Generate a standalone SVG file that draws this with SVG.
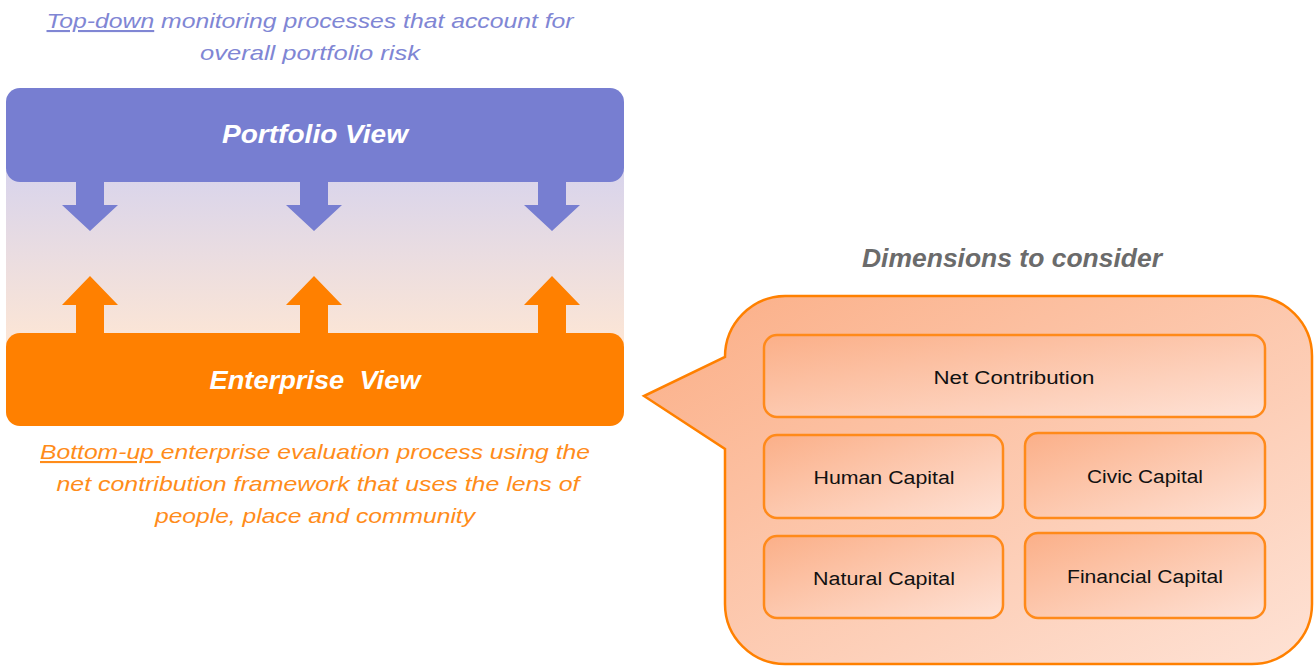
<svg xmlns="http://www.w3.org/2000/svg" width="1314" height="666" viewBox="0 0 1314 666">
<defs>
<linearGradient id="bg" x1="0" y1="0" x2="0" y2="1">
<stop offset="0" stop-color="#D8D4EC"/>
<stop offset="1" stop-color="#FDE6D5"/>
</linearGradient>
<linearGradient id="peach" x1="0" y1="0" x2="1" y2="1">
<stop offset="0" stop-color="#FBAE86"/>
<stop offset="1" stop-color="#FEE2D5"/>
</linearGradient>
<linearGradient id="peach2" x1="0" y1="0" x2="1" y2="1">
<stop offset="0" stop-color="#FBAF88"/>
<stop offset="1" stop-color="#FEE2D6"/>
</linearGradient>
</defs>
<style>
.cap{font-family:"Liberation Sans",Arial,sans-serif;font-style:italic}
.top{fill:#8086D4;font-size:21px}
.bot{fill:#FF8C1A;font-size:21px}
.hdr{font-family:"Liberation Sans",Arial,sans-serif;font-style:italic;font-weight:bold;fill:#fff;font-size:25px}
.dim{fill:#FF8000}
.box{fill:url(#peach2);stroke:#FF8A1A;stroke-width:2.5}
.lbl{font-family:"Liberation Sans",Arial,sans-serif;font-size:18px;fill:#111;text-anchor:middle}
.pv{fill:#777ED1}
.ev{fill:#FF8000}
</style>
<rect x="6" y="170" width="618" height="175" fill="url(#bg)"/>
<g id="top-caption">
<text class="cap top" x="310" y="28" text-anchor="middle" textLength="527" lengthAdjust="spacingAndGlyphs"><tspan text-decoration="underline">Top-down</tspan> monitoring processes that account for</text>
<text class="cap top" x="310" y="60" text-anchor="middle" textLength="220" lengthAdjust="spacingAndGlyphs">overall portfolio risk</text>
</g>
<g id="portfolio-view">
<rect class="pv" x="6" y="88" width="618" height="94" rx="14"/>
<text class="hdr" x="315" y="143" text-anchor="middle" textLength="186" lengthAdjust="spacingAndGlyphs">Portfolio View</text>
</g>
<g id="enterprise-view">
<rect class="ev" x="6" y="333" width="618" height="93" rx="14"/>
<text class="hdr" x="315" y="389" text-anchor="middle" textLength="211" lengthAdjust="spacingAndGlyphs" xml:space="preserve">Enterprise  View</text>
</g>
<g id="connectors">
<polygon class="pv" points="76,180 104,180 104,205 118,205 90,231 62,205 76,205"/>
<polygon class="pv" points="300,180 328,180 328,205 342,205 314,231 286,205 300,205"/>
<polygon class="pv" points="538,180 566,180 566,205 580,205 552,231 524,205 538,205"/>
<polygon class="ev" points="76,335 104,335 104,305 118,305 90,276 62,305 76,305"/>
<polygon class="ev" points="300,335 328,335 328,305 342,305 314,276 286,305 300,305"/>
<polygon class="ev" points="538,335 566,335 566,305 580,305 552,276 524,305 538,305"/>
</g>
<g id="bottom-caption">
<text class="cap bot" x="315" y="459" text-anchor="middle" textLength="550" lengthAdjust="spacingAndGlyphs" xml:space="preserve"><tspan text-decoration="underline">Bottom-up </tspan>enterprise evaluation process using the</text>
<text class="cap bot" x="318" y="491" text-anchor="middle" textLength="523" lengthAdjust="spacingAndGlyphs">net contribution framework that uses the lens of</text>
<text class="cap bot" x="315" y="523" text-anchor="middle" textLength="320" lengthAdjust="spacingAndGlyphs">people, place and community</text>
</g>
<g id="dimensions-title">
<text x="1012" y="267" text-anchor="middle" font-family="Liberation Sans, Arial, sans-serif" font-style="italic" font-weight="bold" font-size="25" fill="#6B6B6B" textLength="300" lengthAdjust="spacingAndGlyphs">Dimensions to consider</text>
</g>
<g id="callout">
<path d="M785,296 H1252 A60,60 0 0 1 1312,356 V604 A60,60 0 0 1 1252,664 H785 A60,60 0 0 1 725,604 V449 L644,396 L725,357 A61,61 0 0 1 785,296 Z" fill="url(#peach)" stroke="#FF8000" stroke-width="2.5"/>
</g>
<g id="net-contribution">
<rect class="box" x="764" y="335" width="501" height="82" rx="13"/>
<text class="lbl" x="1014" y="384" textLength="161" lengthAdjust="spacingAndGlyphs">Net Contribution</text>
</g>
<g id="human-capital">
<rect class="box" x="764" y="435" width="239" height="83" rx="13"/>
<text class="lbl" x="884" y="484" textLength="141" lengthAdjust="spacingAndGlyphs">Human Capital</text>
</g>
<g id="civic-capital">
<rect class="box" x="1025" y="433" width="240" height="85" rx="13"/>
<text class="lbl" x="1145" y="483" textLength="116" lengthAdjust="spacingAndGlyphs">Civic Capital</text>
</g>
<g id="natural-capital">
<rect class="box" x="764" y="536" width="239" height="82" rx="13"/>
<text class="lbl" x="884" y="585" textLength="142" lengthAdjust="spacingAndGlyphs">Natural Capital</text>
</g>
<g id="financial-capital">
<rect class="box" x="1025" y="533" width="240" height="85" rx="13"/>
<text class="lbl" x="1145" y="583" textLength="156" lengthAdjust="spacingAndGlyphs">Financial Capital</text>
</g>
</svg>
